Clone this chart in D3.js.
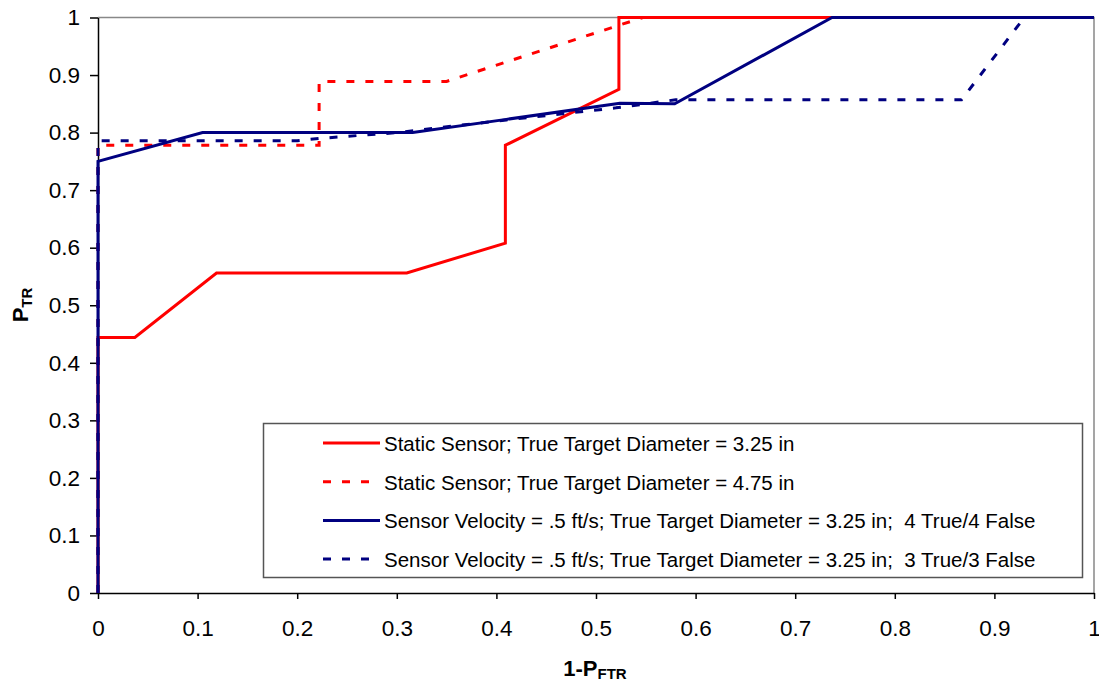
<!DOCTYPE html>
<html><head><meta charset="utf-8">
<script src="https://cdn.jsdelivr.net/npm/d3@7"></script>
<style>body{margin:0;background:#fff}svg{display:block}text{font-family:"Liberation Sans",Arial,sans-serif;white-space:pre}</style>
</head><body><svg id="c" width="1099" height="683"></svg>
<script>
const xTicks=[0,0.1,0.2,0.3,0.4,0.5,0.6,0.7,0.8,0.9,1];
const yTicks=[0,0.1,0.2,0.3,0.4,0.5,0.6,0.7,0.8,0.9,1];
const seriesNames=["Static Sensor; True Target Diameter = 3.25 in","Static Sensor; True Target Diameter = 4.75 in","Sensor Velocity = .5 ft/s; True Target Diameter = 3.25 in;  4 True/4 False","Sensor Velocity = .5 ft/s; True Target Diameter = 3.25 in;  3 True/3 False"];
const static325X=[0,0,0.037,0.119,0.31,0.409,0.409,0.523,0.523,1];
const static325Y=[0,0.444,0.444,0.556,0.556,0.608,0.778,0.875,1,1];
const static475X=[0,0,0.222,0.222,0.35,0.547,1];
const static475Y=[0,0.778,0.778,0.889,0.889,1,1];
const vel44X=[0,0,0.105,0.316,0.41,0.524,0.579,0.737,1];
const vel44Y=[0,0.75,0.8,0.8,0.823,0.851,0.85,1,1];
const vel33X=[0,0,0.2,0.223,0.3,0.41,0.52,0.58,0.867,0.93,1];
const vel33Y=[0,0.786,0.786,0.79,0.8,0.822,0.843,0.857,0.857,1,1];
const colors=["#ff0000","#ff0000","#000080","#000080"];
const dashes=[null,"8,11",null,"8,11"];

const svg=d3.select("#c");
const L=98,R=1094,T=17.5,B=593;
const x=d3.scaleLinear().domain([0,1]).range([L,R]);
const y=d3.scaleLinear().domain([0,1]).range([B,T]);

svg.append("path").attr("d",`M${L},${T}H${R}V${B}`).attr("fill","none").attr("stroke","#888").attr("stroke-width",1.5);

const fmt=d=>d===0||d===1?String(d):d3.format(".1f")(d);
const xa=svg.append("g").attr("transform",`translate(0,${B})`)
  .call(d3.axisBottom(x).tickValues(xTicks).tickFormat(fmt).tickSizeInner(6).tickSizeOuter(0).tickPadding(21));
const ya=svg.append("g").attr("transform",`translate(${L},0)`)
  .call(d3.axisLeft(y).tickValues(yTicks).tickFormat(fmt).tickSizeInner(8).tickSizeOuter(0).tickPadding(10));
[xa,ya].forEach(a=>{a.selectAll("path,line").attr("stroke","#000").attr("stroke-width",1.5);a.selectAll("text").attr("font-size",22.5).attr("fill","#000").style("font-family","'Liberation Sans',Arial,sans-serif");});

const data=[[static325X,static325Y],[static475X,static475Y],[vel44X,vel44Y],[vel33X,vel33Y]];
const line=d3.line().x(d=>x(d[0])).y(d=>y(d[1]));
[1,0,3,2].forEach(i=>{
  const pts=data[i][0].map((v,k)=>[v,data[i][1][k]]);
  svg.append("path").attr("d",line(pts)).attr("fill","none").attr("stroke",colors[i]).attr("stroke-width",3)
    .attr("stroke-dasharray",dashes[i]).attr("stroke-linejoin","miter");
});

const yt=svg.append("text").attr("transform","translate(28,305) rotate(-90)").attr("text-anchor","middle").attr("font-weight","bold").attr("font-size",22);
yt.append("tspan").text("P");yt.append("tspan").text("TR").attr("font-size",15).attr("dy",4);
const xt=svg.append("text").attr("x",595).attr("y",676).attr("text-anchor","middle").attr("font-weight","bold").attr("font-size",22);
xt.append("tspan").text("1-P");xt.append("tspan").text("FTR").attr("font-size",15).attr("dy",3);

const lg=svg.append("g");
lg.append("rect").attr("x",263.5).attr("y",423.5).attr("width",819).attr("height",154).attr("fill","#fff").attr("stroke","#555").attr("stroke-width",1.5);
seriesNames.forEach((n,i)=>{
  const yy=443+i*38.7;
  lg.append("line").attr("x1",323).attr("x2",380).attr("y1",yy).attr("y2",yy).attr("stroke",colors[i]).attr("stroke-width",3).attr("stroke-dasharray",dashes[i]);
  lg.append("text").attr("x",384).attr("y",yy+8).attr("font-size",20.5).attr("fill","#000").text(n);
});
</script></body></html>
